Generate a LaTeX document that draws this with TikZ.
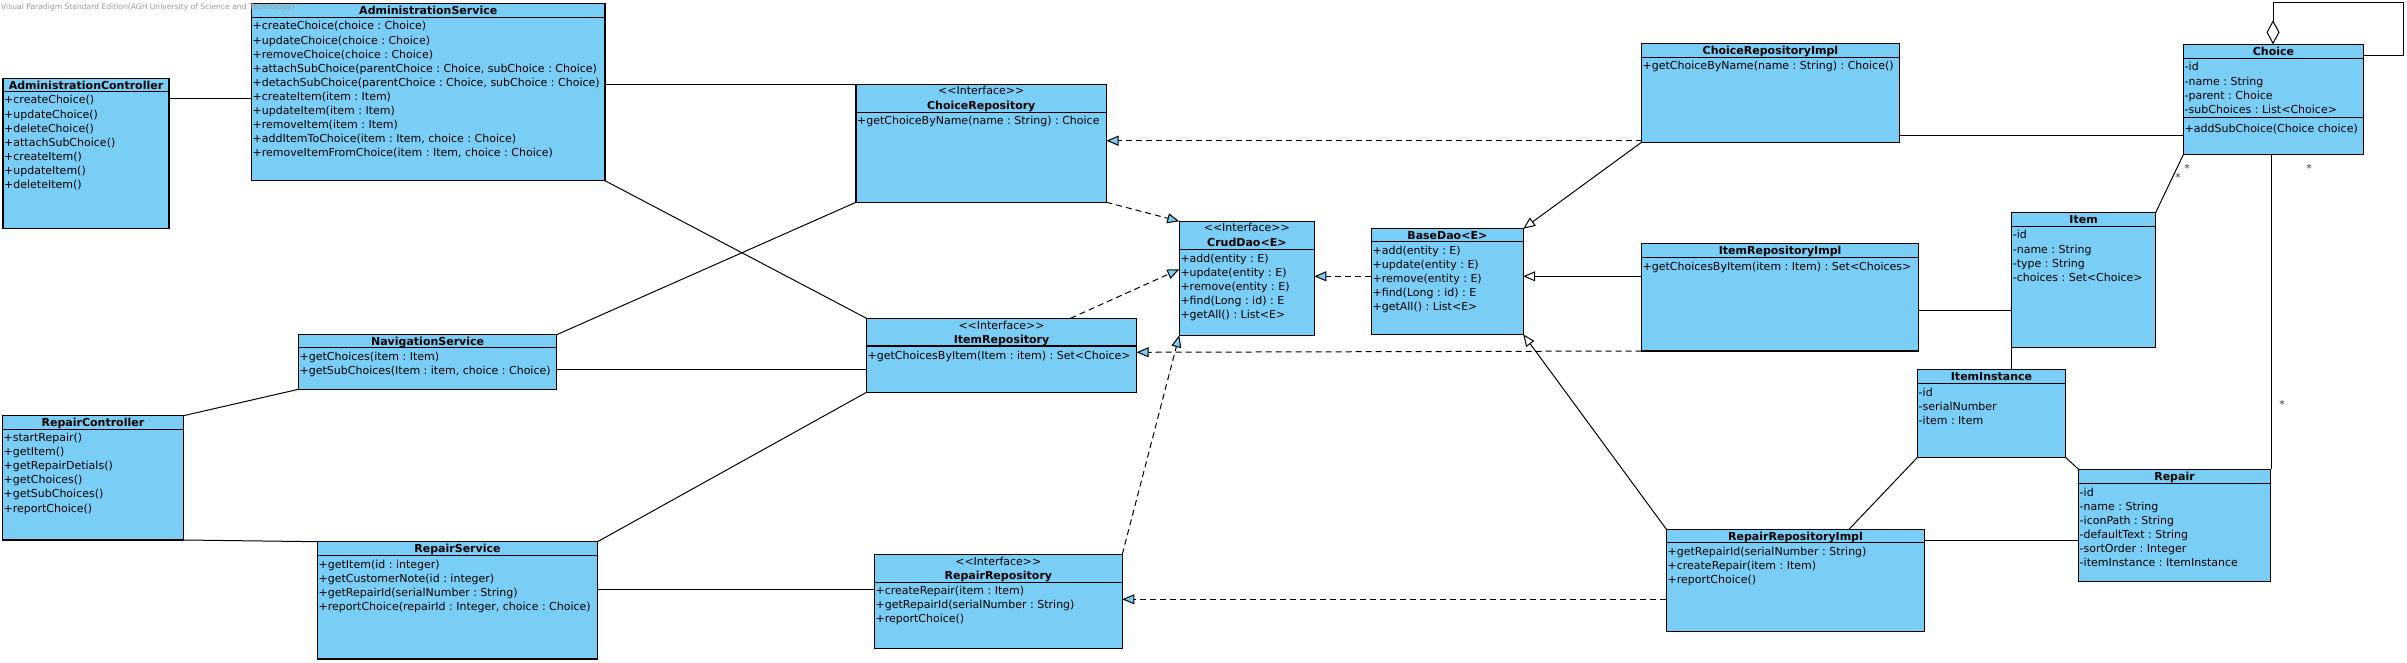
\documentclass[tikz,border=0pt]{standalone}
\usepackage{fontspec}
\setmainfont{DejaVu Sans}
\frenchspacing
\usetikzlibrary{arrows.meta,calc}
\definecolor{clsblue}{RGB}{122,206,245}
\tikzset{
  clsbox/.style={draw, line width=1.3pt, fill=clsblue, inner sep=0pt, outer sep=0pt},
  boxline/.style={line width=1.3pt},
  rowtext/.style={font=\fontsize{11}{13}\selectfont, inner sep=0pt},
  titletext/.style={font=\fontsize{11}{13}\selectfont\bfseries, inner sep=0pt},
  stereo/.style={font=\fontsize{11}{13}\selectfont, inner sep=0pt},
  conn/.style={line width=1pt},
  real/.style={conn, dash pattern=on 6pt off 4pt, -{Triangle[length=12pt, width=10pt, fill=clsblue]}},
  gen/.style={conn, -{Triangle[length=12pt, width=10pt, fill=white]}},
  agg/.style={conn, {Diamond[length=24pt, width=13pt, fill=white]}-},
  mult/.style={font=\fontsize{11}{12}\selectfont, inner sep=0pt, text=black!75},
  wm/.style={font=\fontsize{7.6}{9}\selectfont, inner sep=0pt, text=black!40},
}
% name, left, top, right, bottom, header line, title
\newcommand{\umlclass}[7]{%
  \node[clsbox, minimum width={#4-#2}, minimum height={#5-#3}, anchor=north west] (#1) at (#2,#3) {};
  \draw[boxline] (#1.west |- 0,#6) -- (#1.east |- 0,#6);
  \node[titletext, anchor=base] (#1-t) at ($(#1.north)+(0,11)$) {#7};
}
\newcommand{\umliface}[7]{%
  \node[clsbox, minimum width={#4-#2}, minimum height={#5-#3}, anchor=north west] (#1) at (#2,#3) {};
  \draw[boxline] (#1.west |- 0,#6) -- (#1.east |- 0,#6);
  \node[stereo, anchor=base] (#1-s) at ($(#1.north)+(0,10.7)$) {<{}<Interface>{}>};
  \node[titletext, anchor=base] (#1-t) at ($(#1.north)+(0,25)$) {#7};
}
% name, first baseline y, list of rows
\newcommand{\umlrows}[3]{%
  \foreach \t [count=\i from 0] in {#3} {
    \node[rowtext, anchor=base west] (#1-r\i) at ($(#1.west |- 0,#2)+(1,\i*14.07)$) {\t};
  }
}
\begin{document}
\begin{tikzpicture}[x=1pt, y=-1pt]
\fill[white] (0,0) rectangle (2407,663);
\useasboundingbox (0,0) rectangle (2407,663);

% ---- classes ----
\umlclass{ctrlA}{3}{78.7}{169}{228.7}{91.3}{AdministrationController}
\umlrows{ctrlA}{104}{+createChoice(), +updateChoice(), +deleteChoice(), +attachSubChoice(), +createItem(), +updateItem(), +deleteItem()}

\umlclass{svcA}{251.5}{3.3}{605}{180.7}{17.3}{AdministrationService}
\umlrows{svcA}{30}{+createChoice(choice : Choice), +updateChoice(choice : Choice), +removeChoice(choice : Choice), {+attachSubChoice(parentChoice : Choice, subChoice : Choice)}, {+detachSubChoice(parentChoice : Choice, subChoice : Choice)}, +createItem(item : Item), +updateItem(item : Item), +removeItem(item : Item), {+addItemToChoice(item : Item, choice : Choice)}, {+removeItemFromChoice(item : Item, choice : Choice)}}

\umliface{repC}{856}{84.3}{1106.5}{202.3}{112.3}{ChoiceRepository}
\umlrows{repC}{125}{+getChoiceByName(name : String) : Choice}

\umlclass{implC}{1641.5}{43.3}{1899.4}{142.3}{57.3}{ChoiceRepositoryImpl}
\umlrows{implC}{70}{+getChoiceByName(name : String) : Choice()}

\umlclass{choice}{2183.5}{44.3}{2363.4}{154.3}{58.3}{Choice}
\draw[boxline] (choice.west |- 0,117.7) -- (choice.east |- 0,117.7);
\umlrows{choice}{71}{-id, -name : String, -parent : Choice, -subChoices : List<Choice>}
\node[rowtext, anchor=base west] (choice-op) at ($(choice.west |- 0,132.3)+(1,0)$) {+addSubChoice(Choice choice)};

\umliface{crud}{1179.3}{221.3}{1314.4}{335.3}{249.3}{CrudDao<E>}
\umlrows{crud}{262.3}{+add(entity : E), +update(entity : E), +remove(entity : E), +find(Long : id) : E, +getAll() : List<E>}

\umlclass{base}{1371.4}{228.7}{1523.2}{334.3}{241.7}{BaseDao<E>}
\umlrows{base}{254.3}{+add(entity : E), +update(entity : E), +remove(entity : E), +find(Long : id) : E, +getAll() : List<E>}

\umlclass{implI}{1641.5}{243.3}{1918.7}{351}{257.3}{ItemRepositoryImpl}
\umlrows{implI}{270.3}{+getChoicesByItem(item : Item) : Set<Choices>}

\umlclass{item}{2011.6}{212.7}{2155.6}{347.3}{226.7}{Item}
\umlrows{item}{239}{-id, -name : String, -type : String, -choices : Set<Choice>}

\umlclass{inst}{1917.5}{369.3}{2065.5}{457.3}{383.3}{ItemInstance}
\umlrows{inst}{396}{-id, -serialNumber, -item : Item}

\umlclass{repair}{2078.5}{469.3}{2270.5}{581.3}{483.3}{Repair}
\umlrows{repair}{496}{-id, -name : String, -iconPath : String, -defaultText : String, -sortOrder : Integer, -itemInstance : ItemInstance}

\umlclass{implR}{1666.4}{529.3}{1924.6}{631.3}{542.3}{RepairRepositoryImpl}
\umlrows{implR}{555.3}{+getRepairId(serialNumber : String), +createRepair(item : Item), +reportChoice()}

\umliface{repR}{874.4}{554.3}{1122.3}{648.3}{582.3}{RepairRepository}
\umlrows{repR}{594.7}{+createRepair(item : Item), +getRepairId(serialNumber : String), +reportChoice()}

\umliface{repI}{866.5}{318.3}{1136.6}{392.3}{346}{ItemRepository}
\umlrows{repI}{359}{+getChoicesByItem(Item : item) : Set<Choice>}

\umlclass{svcN}{298.5}{334.7}{556.7}{389.3}{347.7}{NavigationService}
\umlrows{svcN}{360}{+getChoices(item : Item), {+getSubChoices(Item : item, choice : Choice)}}

\umlclass{ctrlR}{2.4}{415.7}{183.5}{540}{429.7}{RepairController}
\umlrows{ctrlR}{441.7}{+startRepair(), +getItem(), +getRepairDetials(), +getChoices(), +getSubChoices(), +reportChoice()}

\umlclass{svcR}{317.5}{541.7}{597.5}{659}{555.7}{RepairService}
\umlrows{svcR}{568.3}{+getItem(id : integer), +getCustomerNote(id : integer), +getRepairId(serialNumber : String), {+reportChoice(repairId : Integer, choice : Choice)}}

% ---- helper coordinates ----
\coordinate (hA) at (0,99);
\coordinate (hN) at (0,369.5);
\coordinate (hR) at (0,589.3);
\coordinate (hC) at (0,140.7);
\coordinate (hB) at (0,276.3);
\coordinate (hCI) at (0,136);
\coordinate (hIR) at (0,352.3);
\coordinate (hRR) at (0,599.3);
\coordinate (hII) at (0,310);
\coordinate (hRI) at (0,540.3);
\coordinate (hCr) at (0,269.3);
\coordinate (vIR) at (1070.5,0);
\coordinate (vRep) at (2271,0);
\coordinate (vImplR) at (1849,0);
\coordinate (loopA) at (2273,2.7);
\coordinate (loopB) at (2403,2.7);
\coordinate (loopC) at (2403,56);

% ---- associations ----
\draw[conn] (ctrlA.east |- hA) -- (svcA.west |- hA);
\draw[conn] (svcA.east |- repC.north west) -- (repC.north west);
\draw[conn] (svcA.south east) -- (repI.north west);
\draw[conn] (repC.south west) -- (svcN.north east);
\draw[conn] (svcN.east |- hN) -- (repI.west |- hN);
\draw[conn] (ctrlR.north east) -- (svcN.south west);
\draw[conn] (ctrlR.south east) -- (svcR.north west);
\draw[conn] (svcR.north east) -- (repI.south west);
\draw[conn] (svcR.east |- hR) -- (repR.west |- hR);
\draw[conn] (implC.east |- hCI) -- (choice.west |- hCI);
\draw[conn] (choice.south west) -- (item.north east);
\draw[conn] (choice.south -| vRep) -- (repair.north -| vRep);
\draw[agg] (choice.north -| loopA) -- (loopA) -- (loopB) -- (loopC) -- (choice.east |- loopC);
\draw[conn] (implI.east |- hII) -- (item.west |- hII);
\draw[conn] (item.south west) -- (inst.north -| item.south west);
\draw[conn] (inst.south east) -- (repair.north west);
\draw[conn] (inst.south west) -- (implR.north -| vImplR);
\draw[conn] (implR.east |- hRI) -- (repair.west |- hRI);

% ---- realizations ----
\draw[real] (implC.west |- hC) -- (repC.east |- hC);
\draw[real] (repC.south east) -- (crud.north west);
\draw[real] (repI.north -| vIR) -- (crud.west |- hCr);
\draw[real] (repR.north east) -- (crud.south west);
\draw[real] (base.west |- hB) -- (crud.east |- hB);
\draw[real] (implI.south west) -- (repI.east |- hIR);
\draw[real] (implR.west |- hRR) -- (repR.east |- hRR);

% ---- generalizations ----
\draw[gen] (implC.south west) -- (base.north east);
\draw[gen] (implI.west |- hB) -- (base.east |- hB);
\draw[gen] (implR.north west) -- (base.south east);

% ---- multiplicities ----
\node[mult] (m1) at (2187,168) {*};
\node[mult] (m2) at (2178,177.5) {*};
\node[mult] (m3) at (2309,168) {*};
\node[mult] (m4) at (2282,404) {*};

% ---- watermark ----
\node[wm, anchor=west] (wm) at (1,7) {Visual Paradigm Standard Edition(AGH University of Science and Technology)};
\end{tikzpicture}
\end{document}
